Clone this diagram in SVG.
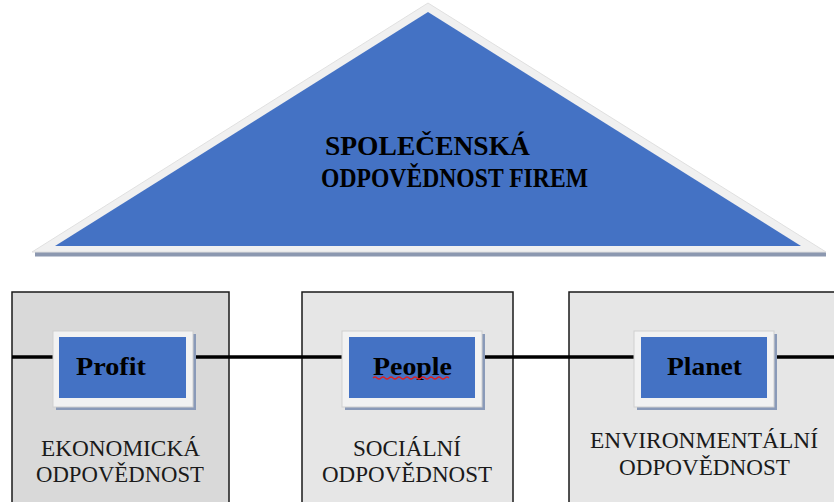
<svg xmlns="http://www.w3.org/2000/svg" width="834" height="502" viewBox="0 0 834 502">
<style>
.pillar{stroke:#1a1a1a;stroke-width:1.5}
.frame{fill:#f2f2f2;stroke:#d0d0d0;stroke-width:1}
.shadow{fill:#8a9ab8}
.blue{fill:#4472c4}
text{font-family:'Liberation Serif','Times New Roman','DejaVu Serif',serif}
.title{font-weight:bold;font-size:24px;fill:#000}
.lbl{font-weight:bold;font-size:26px;fill:#000}
.sub{font-size:23px;fill:#1a1a1a}
</style>
<rect width="834" height="502" fill="#fff"/>
<g id="roof">
<rect x="35" y="252" width="791" height="4.5" fill="#8c98b0"/>
<polygon points="428,3 32,252 826,252" fill="#f0f0f0" stroke="#e0e0e0" stroke-width="1"/>
<polygon class="blue" points="428,12 55,246 801,246"/>
<text class="title" x="325" y="155" textLength="205" lengthAdjust="spacingAndGlyphs" transform="translate(0 155) scale(1 1.1) translate(0 -155)">SPOLEČENSKÁ</text>
<text class="title" x="321" y="187" textLength="267" lengthAdjust="spacingAndGlyphs" transform="translate(0 187) scale(1 1.1) translate(0 -187)">ODPOVĚDNOST FIREM</text>
</g>
<g id="pillar-economic">
<rect class="pillar" x="12" y="292" width="217" height="215" fill="#d9d9d9"/>
</g>
<g id="pillar-social">
<rect class="pillar" x="302" y="292" width="211" height="215" fill="#e6e6e6"/>
</g>
<g id="pillar-environmental">
<rect class="pillar" x="569" y="292" width="270" height="215" fill="#e6e6e6"/>
</g>
<g id="connectors">
<line x1="12" y1="357" x2="834" y2="357" stroke="#000" stroke-width="3.5"/>
</g>
<g id="profit">
<rect class="shadow" x="56" y="334" width="140" height="76"/>
<rect class="frame" x="53" y="331" width="140" height="76"/>
<rect class="blue" x="59" y="337" width="127" height="61"/>
<text class="lbl" x="76" y="375" textLength="70" lengthAdjust="spacingAndGlyphs">Profit</text>
<text class="sub" x="41" y="456" textLength="159" lengthAdjust="spacingAndGlyphs">EKONOMICKÁ</text>
<text class="sub" x="36" y="482" textLength="168" lengthAdjust="spacingAndGlyphs">ODPOVĚDNOST</text>
</g>
<g id="people">
<rect class="shadow" x="345" y="334" width="140" height="76"/>
<rect class="frame" x="342" y="331" width="140" height="76"/>
<rect class="blue" x="349" y="337" width="126" height="61"/>
<text class="lbl" x="373" y="375" textLength="79" lengthAdjust="spacingAndGlyphs">People</text>
<path d="M373,378 q2,-2 4,0 t4,0 t4,0 t4,0 t4,0 t4,0 t4,0 t4,0 t4,0 t4,0 t4,0 t4,0 t4,0 t4,0 t4,0 t4,0 t4,0 t4,0 t4,0" fill="none" stroke="#e02020" stroke-width="1.3"/>
<text class="sub" x="353" y="456" textLength="108" lengthAdjust="spacingAndGlyphs">SOCIÁLNÍ</text>
<text class="sub" x="322" y="482" textLength="170" lengthAdjust="spacingAndGlyphs">ODPOVĚDNOST</text>
</g>
<g id="planet">
<rect class="shadow" x="637" y="334" width="140" height="76"/>
<rect class="frame" x="634" y="331" width="140" height="76"/>
<rect class="blue" x="641" y="337" width="126" height="61"/>
<text class="lbl" x="667" y="375" textLength="75" lengthAdjust="spacingAndGlyphs">Planet</text>
<text class="sub" x="590" y="448" textLength="228" lengthAdjust="spacingAndGlyphs">ENVIRONMENTÁLNÍ</text>
<text class="sub" x="619" y="475" textLength="171" lengthAdjust="spacingAndGlyphs">ODPOVĚDNOST</text>
</g>
</svg>
